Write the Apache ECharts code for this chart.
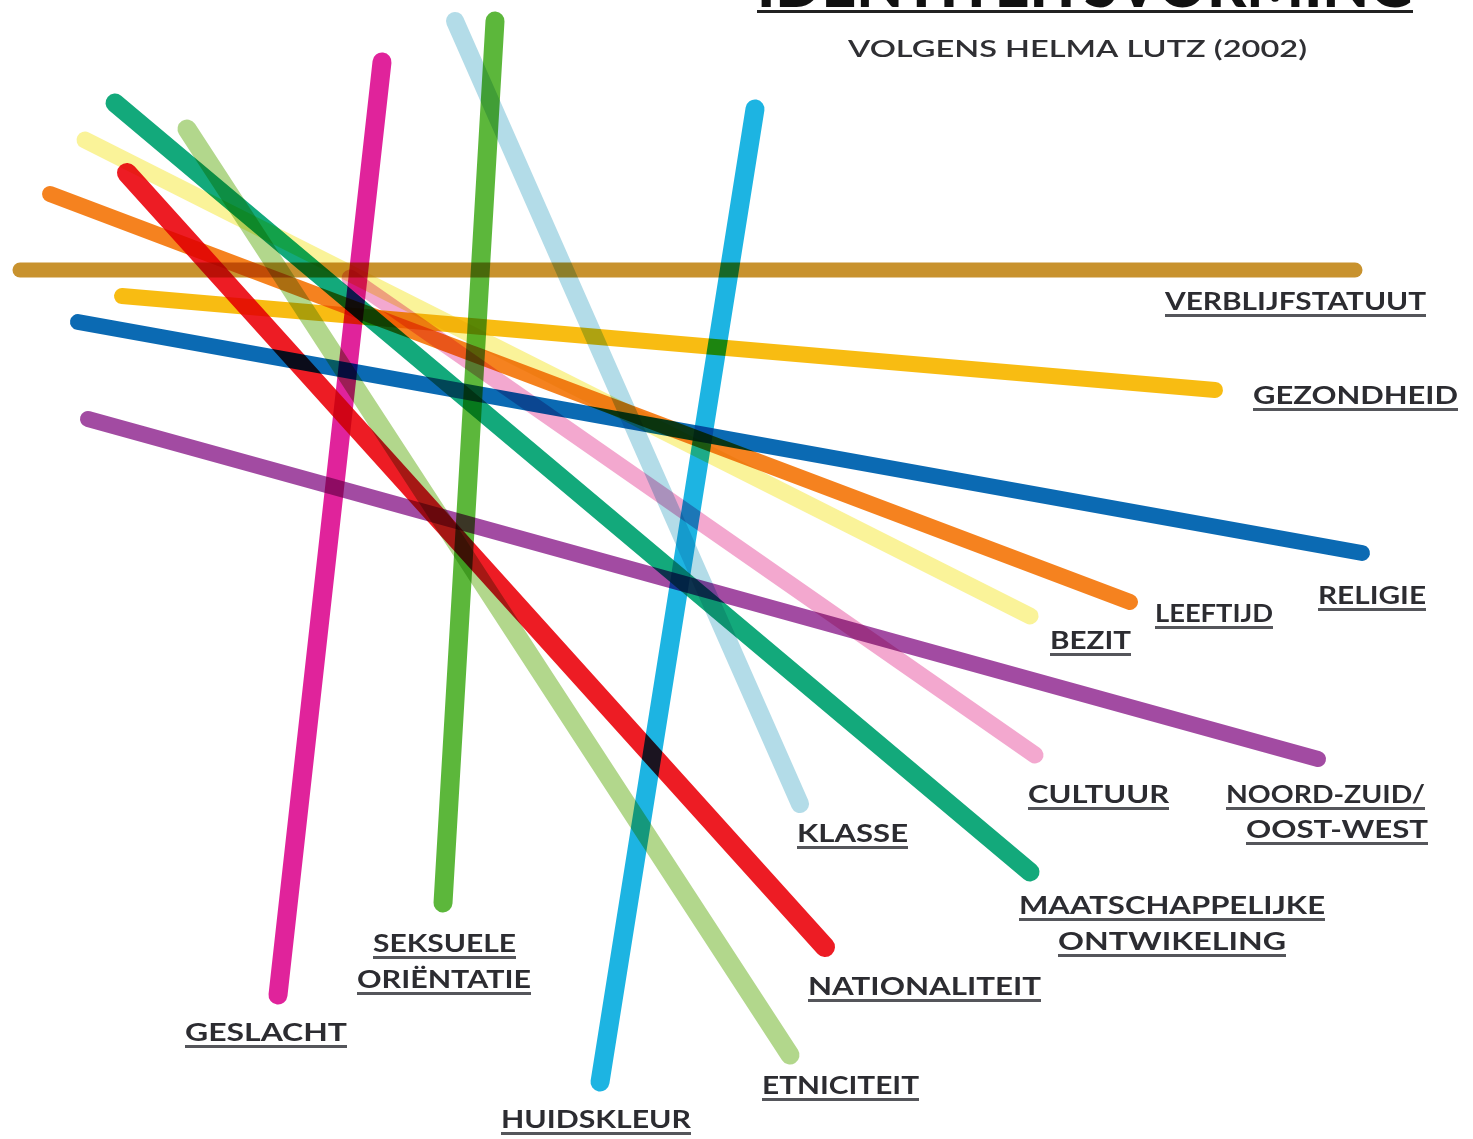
<!DOCTYPE html>
<html>
<head>
<meta charset="utf-8">
<script src="https://cdn.jsdelivr.net/npm/echarts@6/dist/echarts.min.js"></script>
<style>
html,body{margin:0;padding:0;background:#fff;}
#chart{width:1473px;height:1139px;}
</style>
</head>
<body>
<div id="chart"></div>
<script>
// ---- data (endpoints of each identity line, in picture units) ----
const names = ['VERBLIJFSTATUUT','GEZONDHEID','RELIGIE','NOORD-ZUID/OOST-WEST','LEEFTIJD','BEZIT','CULTUUR','KLASSE','MAATSCHAPPELIJKE ONTWIKELING','NATIONALITEIT','ETNICITEIT','HUIDSKLEUR','SEKSUELE ORIËNTATIE','GESLACHT'];
const startX = [20, 122, 78, 88, 50, 85, 350, 455, 115, 127, 187, 755, 495, 382];
const startY = [270, 296, 322, 419, 194, 140, 278, 21, 103, 173, 129, 109, 21, 62];
const endX   = [1355, 1215, 1362, 1318, 1130, 1030, 1035, 800, 1030, 825, 790, 600, 443, 278];
const endY   = [270, 390, 553, 759, 602, 616, 755, 804, 872, 947, 1055, 1082, 903, 995];

// label texts (lines of each label)
const labelLines = [['VERBLIJFSTATUUT'],['GEZONDHEID'],['RELIGIE'],['NOORD-ZUID/','OOST-WEST'],['LEEFTIJD'],['BEZIT'],['CULTUUR'],['KLASSE'],['MAATSCHAPPELIJKE','ONTWIKELING'],['NATIONALITEIT'],['ETNICITEIT'],['HUIDSKLEUR'],['SEKSUELE','ORIËNTATIE'],['GESLACHT']];
const titleText = 'IDENTITEITSVORMING';
const subtitleText = 'VOLGENS HELMA LUTZ (2002)';

// ---- styles / layout ----
const palette = ['#C8922E','#F8BC12','#0B6AB3','#A24BA2','#F5821F','#FAF399','#F3A8CF','#B3DCE8','#13A97B','#ED1C24','#B2D78C','#1DB4E2','#5CB73B','#E0239B'];
const widths  = [15, 16, 16, 16, 16, 17, 17, 18, 19, 20, 19, 19, 19, 19];
// [left, baseline, width] per label line
const labelBox = [
  [[1165, 309, 261]],
  [[1253, 403, 205]],
  [[1318, 603, 108]],
  [[1226, 802, 199],[1246, 837, 182]],
  [[1155, 621, 118]],
  [[1050, 648, 81]],
  [[1028, 802, 141]],
  [[797, 841, 111]],
  [[1019, 913, 306],[1058, 949, 228]],
  [[808, 994, 233]],
  [[762, 1093, 157]],
  [[501, 1127, 190]],
  [[373, 951, 143],[357, 987, 174]],
  [[185, 1040, 162]]
];
const FONT_SIZE = 24;
const FONT = 'bold ' + FONT_SIZE + 'px Lato, "Open Sans", sans-serif';
const SUB_FONT = '600 23px Lato, "Open Sans", sans-serif';

const ctx = document.createElement('canvas').getContext('2d');
function measure(text, font){ ctx.font = font; return ctx.measureText(text).width; }

const graphics = [];
function addText(text, left, baseline, width, size, font, color, underline, ulColor, ulH, ulGap){
  const natural = measure(text, font);
  graphics.push({
    type: 'text', x: left, y: baseline - 0.3 * size, scaleX: width / natural, z: 10,
    style: { text: text, x: 0, y: 0, font: font, fill: color, align: 'left', verticalAlign: 'middle' }
  });
  if (underline) {
    graphics.push({ type: 'rect', z: 10, shape: { x: left, y: baseline + ulGap, width: width, height: ulH }, style: { fill: ulColor } });
  }
}
labelLines.forEach((lines, i) => {
  lines.forEach((t, j) => {
    const b = labelBox[i][j];
    addText(t, b[0], b[1], b[2], FONT_SIZE, FONT, '#2c2c31', true, '#55565b', 3, 5);
  });
});
addText(titleText, 757, 6, 656, 62, '900 62px Lato, sans-serif', '#111', true, '#222', 3, 4);
addText(subtitleText, 848, 56, 459, 23, SUB_FONT, '#2f2f33', false);

const series = names.map((n, i) => ({
  name: n,
  type: 'line',
  data: [[startX[i], startY[i]], [endX[i], endY[i]]],
  symbol: 'none',
  silent: true,
  animation: false,
  blendMode: 'multiply',
  lineStyle: { color: palette[i], width: widths[i], cap: 'round', opacity: 1 }
}));

const chart = echarts.init(document.getElementById('chart'), null, { renderer: 'canvas' });
chart.setOption({
  backgroundColor: '#ffffff',
  animation: false,
  grid: { left: 0, right: 0, top: 0, bottom: 0, containLabel: false },
  xAxis: { type: 'value', min: 0, max: 1473, show: false },
  yAxis: { type: 'value', min: 0, max: 1139, inverse: true, show: false },
  series: series,
  graphic: graphics
});
</script>
</body>
</html>
